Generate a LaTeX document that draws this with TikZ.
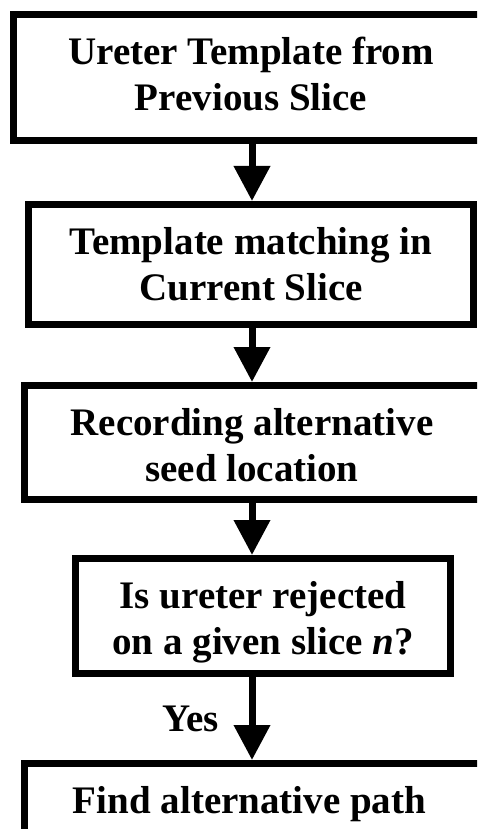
\documentclass[tikz,border=0pt]{standalone}
\usepackage{fontspec}
\setmainfont{Liberation Serif}
\usetikzlibrary{arrows.meta}
% #1 = lower the text by, #2 = extra room on the right, #3 = lines
\newcommand\boxtxt[3]{\raisebox{-#1}[\height][\depth]{%
  \begin{tabular}{@{}c@{}}#3\end{tabular}}\hspace*{#2}}
\begin{document}
\begin{tikzpicture}[x=1pt,y=1pt,
  box/.style={draw, line width=7pt, inner sep=0pt,
    font=\fontsize{39pt}{46pt}\selectfont\bfseries},
  flow/.style={line width=7pt, -{Triangle[width=35pt,length=35pt]}},
  lbl/.style={inner sep=0pt, font=\fontsize{39pt}{46pt}\selectfont\bfseries}]
\useasboundingbox (0,0) rectangle (477,-829);
\clip (0,0) rectangle (477,-829);
\coordinate (ax) at (252,0);
\node[box, minimum width=486.5pt, minimum height=126pt] (b1) at (256.75,-77.5)
  {\boxtxt{1.3pt}{11.5pt}{Ureter Template from\\Previous Slice}};
\node[box, minimum width=445pt, minimum height=120pt] (b2) at (251,-264.5)
  {\boxtxt{4pt}{0pt}{Template matching in\\Current Slice}};
\node[box, minimum width=475.5pt, minimum height=114pt] (b3) at (262.25,-442.5)
  {\boxtxt{7pt}{20.5pt}{Recording alternative\\seed location}};
\node[box, minimum width=375pt, minimum height=115pt] (b4) at (263,-616)
  {\boxtxt{6pt}{0pt}{Is ureter rejected\\on a given slice \textit{n}?}};
\node[box, minimum width=475.5pt, minimum height=80.6pt] (b5) at (262.25,-803.8)
  {\boxtxt{0pt}{25.5pt}{Find alternative path}};
\draw[flow] (b1.south -| ax) -- (b2.north -| ax);
\draw[flow] (b2.south -| ax) -- (b3.north -| ax);
\draw[flow] (b3.south -| ax) -- (b4.north -| ax);
\draw[flow] (b4.south -| ax) -- node[lbl, pos=0.5, left=30pt] {Yes} (b5.north -| ax);
\end{tikzpicture}
\end{document}
